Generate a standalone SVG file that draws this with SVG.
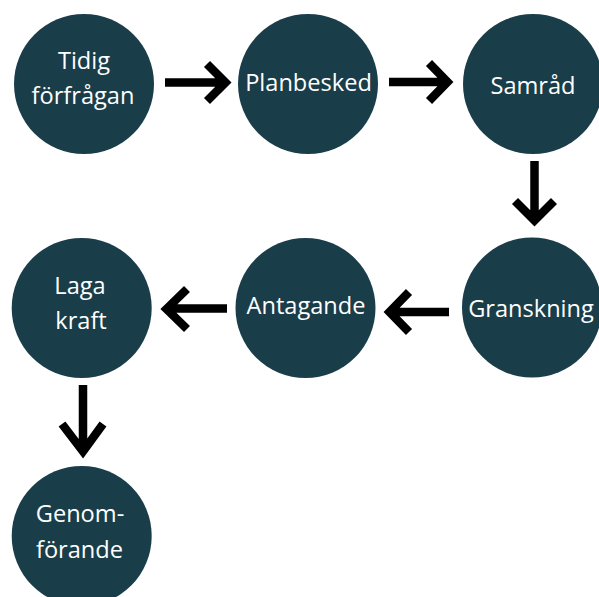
<svg xmlns="http://www.w3.org/2000/svg" width="599" height="597" viewBox="0 0 599 597">
<style>
.n{fill:#1a3d4a}
.t{fill:#ffffff;font-family:"Open Sans",sans-serif;font-size:23.6px;text-anchor:middle}
.c{fill:none;stroke:#000000;stroke-width:8.5;stroke-linecap:butt}
</style>
<rect width="599" height="597" fill="#ffffff"/>
<g id="connectors">
<path class="c" d="M165 82.5H224M207 64L225.5 82.5L207 101"/>
<path class="c" d="M389 82H449M429 63L447.5 82L429 101"/>
<path class="c" d="M534.5 161V220M515 201L534.5 220.5L554 201"/>
<path class="c" d="M449 312H390M409 292L389.5 312L409 332"/>
<path class="c" d="M227 308.5H167M187 289L166.5 309L187 329"/>
<path class="c" d="M83 385V452M62 424L83 451.5L103 424"/>
</g>
<g id="n1"><circle class="n" cx="84" cy="84" r="70"/><text class="t" x="84" y="69">Tidig</text><text class="t" x="83" y="104">förfrågan</text></g>
<g id="n2"><circle class="n" cx="308" cy="84" r="70"/><text class="t" x="308.5" y="91">Planbesked</text></g>
<g id="n3"><circle class="n" cx="533" cy="84" r="70"/><text class="t" x="533" y="94">Samråd</text></g>
<g id="n4"><circle class="n" cx="532" cy="307.5" r="70"/><text class="t" x="531" y="317">Granskning</text></g>
<g id="n5"><circle class="n" cx="305.5" cy="308" r="70"/><text class="t" x="306" y="314">Antagande</text></g>
<g id="n6"><circle class="n" cx="81.7" cy="308" r="70"/><text class="t" x="80" y="294">Laga</text><text class="t" x="81" y="329">kraft</text></g>
<g id="n7"><circle class="n" cx="81.7" cy="536" r="70"/><text class="t" x="80" y="522">Genom-</text><text class="t" x="79.5" y="558">förande</text></g>
</svg>
